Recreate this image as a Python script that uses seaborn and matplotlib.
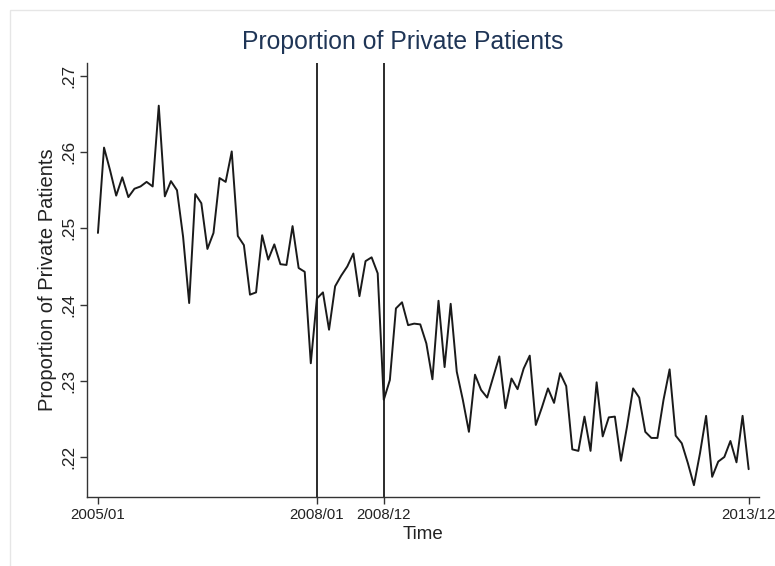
import pandas as pd
import matplotlib.pyplot as plt
import numpy as np
import seaborn as sns

# monthly proportion of private patients, 2005/01 - 2013/12
start_month = "2005-01"
proportion = [
    0.2494, 0.2606, 0.2576, 0.2543, 0.2567, 0.2541, 0.2552, 0.2555, 0.2561, 0.2555,
    0.2661, 0.2542, 0.2562, 0.2550, 0.2489, 0.2402, 0.2545, 0.2533, 0.2473, 0.2494,
    0.2566, 0.2561, 0.2601, 0.2490, 0.2478, 0.2413, 0.2416, 0.2491, 0.2459, 0.2479,
    0.2453, 0.2452, 0.2503, 0.2448, 0.2443, 0.2323, 0.2408, 0.2416, 0.2367, 0.2424,
    0.2438, 0.2450, 0.2467, 0.2411, 0.2457, 0.2462, 0.2441, 0.2275, 0.2301, 0.2395,
    0.2403, 0.2373, 0.2375, 0.2374, 0.2349, 0.2302, 0.2405, 0.2318, 0.2401, 0.2312,
    0.2275, 0.2233, 0.2308, 0.2288, 0.2278, 0.2305, 0.2332, 0.2264, 0.2303, 0.2289,
    0.2316, 0.2333, 0.2242, 0.2265, 0.2290, 0.2271, 0.2310, 0.2293, 0.2210, 0.2208,
    0.2253, 0.2208, 0.2298, 0.2227, 0.2252, 0.2253, 0.2195, 0.2240, 0.2290, 0.2278,
    0.2233, 0.2225, 0.2225, 0.2275, 0.2315, 0.2228, 0.2218, 0.2192, 0.2163, 0.2205,
    0.2254, 0.2174, 0.2194, 0.2200, 0.2221, 0.2193, 0.2254, 0.2184,
]
x_tick_labels = ["2005/01", "2008/01", "2008/12", "2013/12"]
break_months = ["2008/01", "2008/12"]
y_ticks = [0.22, 0.23, 0.24, 0.25, 0.26, 0.27]
y_tick_labels = [".22", ".23", ".24", ".25", ".26", ".27"]

months = pd.period_range(start_month, periods=len(proportion), freq="M").strftime("%Y/%m")
df = pd.DataFrame({"t": np.arange(len(proportion)), "month": months, "prop": proportion})
pos = dict(zip(df["month"], df["t"]))

sns.set_style("white")
plt.rcParams["font.family"] = ["Liberation Sans", "DejaVu Sans"]

fig = plt.figure(figsize=(7.75, 5.66), dpi=100)
# light frame around the graph region, as in the Stata export
fig.patches.append(plt.Rectangle((10 / 775, -0.01), 1.0, (566 - 10) / 566 + 0.01,
                                 transform=fig.transFigure, fill=False,
                                 edgecolor="#e6e6e6", linewidth=1.0))
ax = fig.add_axes([87 / 775, (566 - 497) / 566, (759 - 87) / 775, (497 - 63) / 566])

sns.lineplot(data=df, x="t", y="prop", ax=ax, color="#1a1a1a", linewidth=1.4)
for m in break_months:
    ax.axvline(pos[m], color="#1a1a1a", linewidth=1.3)

ax.set_xlim(-1.8, 108.7)
ax.set_ylim(0.21475, 0.2717)
ax.set_xticks([pos[m] for m in x_tick_labels])
ax.set_xticklabels(x_tick_labels, fontsize=10.8, color="#222222")
ax.set_yticks(y_ticks)
ax.set_yticklabels(y_tick_labels, rotation=90, va="center", fontsize=12.5, color="#222222")
ax.tick_params(axis="both", direction="out", length=5, width=1, color="#333333",
               bottom=True, left=True, pad=3)

for side in ["top", "right"]:
    ax.spines[side].set_visible(False)
for side in ["left", "bottom"]:
    ax.spines[side].set_color("#333333")
    ax.spines[side].set_linewidth(1.0)

ax.set_xlabel("Time", fontsize=13.5, color="#222222", labelpad=3)
ax.set_ylabel("Proportion of Private Patients", fontsize=14.5, color="#222222", labelpad=3)
fig.text(403 / 775, 1 - 42 / 566, "Proportion of Private Patients", ha="center", va="center",
         fontsize=17.8, color="#1f3556")

fig.savefig("out.png", dpi=100, facecolor="white")
